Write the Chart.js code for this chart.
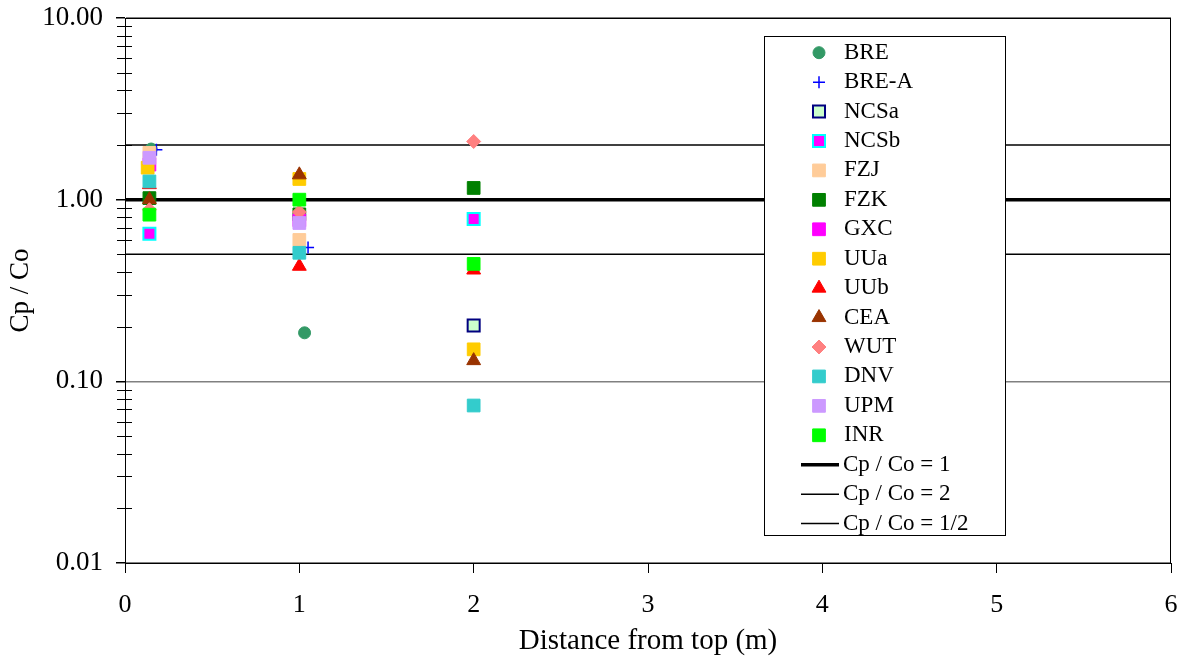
<!DOCTYPE html>
<html>
<head>
<meta charset="utf-8">
<title>Cp / Co vs distance from top</title>
<script src="https://cdn.jsdelivr.net/npm/chart.js@4/dist/chart.umd.min.js"></script>
<style>
  html, body { margin: 0; padding: 0; background: #fff; }
  #wrap { width: 1187px; height: 666px; }
</style>
</head>
<body>
<div id="wrap"><canvas id="chart" width="1187" height="666"></canvas></div>
<script>
// measured points per participant: [distance from top (m), Cp / Co]
const BRE  = [[0.15, 1.9], [1.03, 0.185]];
const BREA = [[0.18, 1.88], [1.05, 0.545]];
const NCSa = [[2, 0.203]];
const NCSb = [[0.14, 0.65], [2, 0.783]];
const FZJ  = [[0.14, 1.81], [1, 0.6]];
const FZK  = [[0.14, 1.02], [1, 0.83], [2, 1.16]];
const GXC  = [[0.14, 1.56], [1, 0.77]];
const UUa  = [[0.13, 1.5], [1, 1.3], [2, 0.15]];
const UUb  = [[0.14, 1.21], [1, 0.43], [2, 0.41]];
const CEA  = [[0.14, 1.0], [1, 1.37], [2, 0.13]];
const WUT  = [[0.14, 0.88], [1, 0.855], [2, 2.09]];
const DNV  = [[0.14, 1.26], [1, 0.51], [2, 0.0736]];
const UPM  = [[0.14, 1.7], [1, 0.744]];
const INR  = [[0.14, 0.827], [1, 1.0], [2, 0.443]];

// reference lines
const refLineX = [0, 6];
const refLevels = [1, 2, 0.5];
const refNames = ['Cp / Co = 1', 'Cp / Co = 2', 'Cp / Co = 1/2'];

// axes
const xTicks = [0, 1, 2, 3, 4, 5, 6];
const yMajorTicks = [0.01, 0.1, 1, 10];
const yTickLabels = ['0.01', '0.10', '1.00', '10.00'];

const markers = [
  { label: 'BRE',   pts: BRE,  style: 'circle',  r: 6,   fill: '#339966', line: '#339966', bw: 1 },
  { label: 'BRE-A', pts: BREA, style: 'cross',   r: 6,   fill: '#0000FF', line: '#0000FF', bw: 1.5 },
  { label: 'NCSa',  pts: NCSa, style: 'rect',    r: 8.5, fill: '#CCFFCC', line: '#000080', bw: 2 },
  { label: 'NCSb',  pts: NCSb, style: 'rect',    r: 8.5, fill: '#FF00FF', line: '#00FFFF', bw: 2 },
  { label: 'FZJ',   pts: FZJ,  style: 'rect',    r: 9,   fill: '#FFCC99', line: '#FFCC99', bw: 1 },
  { label: 'FZK',   pts: FZK,  style: 'rect',    r: 9,   fill: '#008000', line: '#008000', bw: 1 },
  { label: 'GXC',   pts: GXC,  style: 'rect',    r: 9,   fill: '#FF00FF', line: '#FF00FF', bw: 1 },
  { label: 'UUa',   pts: UUa,  style: 'rect',    r: 9,   fill: '#FFCC00', line: '#FFCC00', bw: 1 },
  { label: 'UUb',   pts: UUb,  style: 'triangle',r: 8,   fill: '#FF0000', line: '#FF0000', bw: 1 },
  { label: 'CEA',   pts: CEA,  style: 'triangle',r: 8,   fill: '#993300', line: '#993300', bw: 1 },
  { label: 'WUT',   pts: WUT,  style: 'rectRot', r: 7,   fill: '#FF8080', line: '#FF8080', bw: 1 },
  { label: 'DNV',   pts: DNV,  style: 'rect',    r: 9,   fill: '#33CCCC', line: '#33CCCC', bw: 1 },
  { label: 'UPM',   pts: UPM,  style: 'rect',    r: 9,   fill: '#CC99FF', line: '#CC99FF', bw: 1 },
  { label: 'INR',   pts: INR,  style: 'rect',    r: 9,   fill: '#00FF00', line: '#00FF00', bw: 1 }
];
const refWidths = [3.5, 1.5, 1.5];

const datasets = markers.map((m, i) => ({
  label: m.label,
  data: m.pts.map(p => ({ x: p[0], y: p[1] })),
  showLine: false,
  pointStyle: m.style,
  pointRadius: m.r,
  pointHoverRadius: m.r,
  pointBorderWidth: m.bw,
  backgroundColor: m.fill,
  borderColor: m.line,
  order: 50 - i   // later series end up on top
}));
refLevels.forEach((lvl, i) => {
  datasets.push({
    label: refNames[i],
    data: refLineX.map(x => ({ x: x, y: lvl })),
    showLine: true,
    borderColor: '#000',
    borderWidth: refWidths[i],
    pointRadius: 0,
    order: 100
  });
});

const isMajorY = v => yMajorTicks.some(t => Math.abs(t - v) < t * 1e-6);

// plot frame + minor y ticks crossing the axis
const axisExtras = {
  id: 'axisExtras',
  afterDatasetsDraw(chart) {
    const { ctx, chartArea: a, scales: { y } } = chart;
    ctx.save();
    ctx.strokeStyle = '#000';
    ctx.lineWidth = 1;
    ctx.strokeRect(a.left + 0.5, a.top + 0.5, a.right - a.left - 1, a.bottom - a.top);
    ctx.beginPath();
    y.ticks.forEach(t => {
      if (isMajorY(t.value)) return;
      const py = Math.round(y.getPixelForValue(t.value)) + 0.5;
      ctx.moveTo(a.left - 8, py);
      ctx.lineTo(a.left + 7, py);
    });
    ctx.stroke();
    ctx.restore();
  }
};

// boxed legend inside the plot
const boxLegend = {
  id: 'boxLegend',
  afterDatasetsDraw(chart, args, opts) {
    const ctx = chart.ctx;
    ctx.save();
    ctx.fillStyle = '#fff';
    ctx.fillRect(opts.left, opts.top, opts.right - opts.left, opts.bottom - opts.top);
    ctx.strokeStyle = '#000';
    ctx.lineWidth = 1;
    ctx.strokeRect(opts.left + 0.5, opts.top + 0.5, opts.right - opts.left, opts.bottom - opts.top);
    ctx.font = '23px "Liberation Serif", "Times New Roman", serif';
    ctx.textBaseline = 'middle';
    chart.data.datasets.forEach((ds, i) => {
      const y = opts.firstY + i * opts.step;
      if (ds.showLine) {
        ctx.beginPath();
        ctx.strokeStyle = ds.borderColor;
        ctx.lineWidth = ds.borderWidth;
        ctx.moveTo(opts.lineX0, y);
        ctx.lineTo(opts.lineX1, y);
        ctx.stroke();
        ctx.fillStyle = '#000';
        ctx.fillText(ds.label, opts.lineTextX, y);
      } else {
        ctx.fillStyle = ds.backgroundColor;
        ctx.strokeStyle = ds.borderColor;
        ctx.lineWidth = ds.pointBorderWidth;
        Chart.helpers.drawPoint(ctx, {
          pointStyle: ds.pointStyle, radius: ds.pointRadius, rotation: 0, borderWidth: ds.pointBorderWidth
        }, opts.markX, y);
        ctx.fillStyle = '#000';
        ctx.fillText(ds.label, opts.textX, y);
      }
    });
    ctx.restore();
  }
};

Chart.defaults.font.family = '"Liberation Serif", "Times New Roman", serif';
Chart.defaults.color = '#000';

new Chart(document.getElementById('chart').getContext('2d'), {
  type: 'scatter',
  data: { datasets: datasets },
  plugins: [axisExtras, boxLegend],
  options: {
    responsive: false,
    animation: false,
    events: [],
    layout: { padding: { left: 0, top: 18, right: 16, bottom: 0 } },
    plugins: {
      legend: { display: false },
      tooltip: { enabled: false },
      boxLegend: {
        left: 764, top: 36, right: 1005, bottom: 535,
        firstY: 52.7, step: 29.43,
        markX: 819, textX: 844,
        lineX0: 801, lineX1: 839, lineTextX: 843
      }
    },
    scales: {
      x: {
        type: 'linear',
        min: 0,
        max: 6,
        afterBuildTicks: s => { s.ticks = xTicks.map(v => ({ value: v })); },
        afterFit: s => { s.height = 103; s.paddingLeft = 0; s.paddingRight = 0; },
        ticks: { padding: 17, font: { size: 26 }, color: '#000', callback: v => String(v) },
        grid: { drawOnChartArea: false, tickLength: 10, tickColor: '#000', color: '#000' },
        border: { color: '#000', width: 1 },
        title: {
          display: true, text: 'Distance from top (m)', color: '#000',
          font: { size: 29 }, padding: { top: 0, bottom: 7 }
        }
      },
      y: {
        type: 'logarithmic',
        min: 0.01,
        max: 10,
        afterBuildTicks: s => {
          const t = [];
          yMajorTicks.forEach((d, i) => {
            t.push({ value: d });
            if (i < yMajorTicks.length - 1) {
              for (let k = 2; k <= 9; k++) t.push({ value: d * k });
            }
          });
          s.ticks = t;
        },
        afterFit: s => { s.width = 125; s.paddingTop = 0; s.paddingBottom = 0; },
        ticks: {
          autoSkip: false,
          padding: 13,
          font: { size: 27 },
          color: '#000',
          callback: v => {
            const i = yMajorTicks.findIndex(t => Math.abs(t - v) < t * 1e-6);
            return i >= 0 ? yTickLabels[i] : '';
          }
        },
        grid: {
          color: c => (c.tick && isMajorY(c.tick.value)) ? '#808080' : 'transparent',
          tickColor: c => (c.tick && isMajorY(c.tick.value)) ? '#000' : 'transparent',
          lineWidth: 1.5,
          tickLength: 9
        },
        border: { color: '#000', width: 1 },
        title: {
          display: true, text: 'Cp / Co', color: '#000',
          font: { size: 27 }, padding: { top: 5, bottom: 0 }
        }
      }
    }
  }
});
</script>
</body>
</html>
